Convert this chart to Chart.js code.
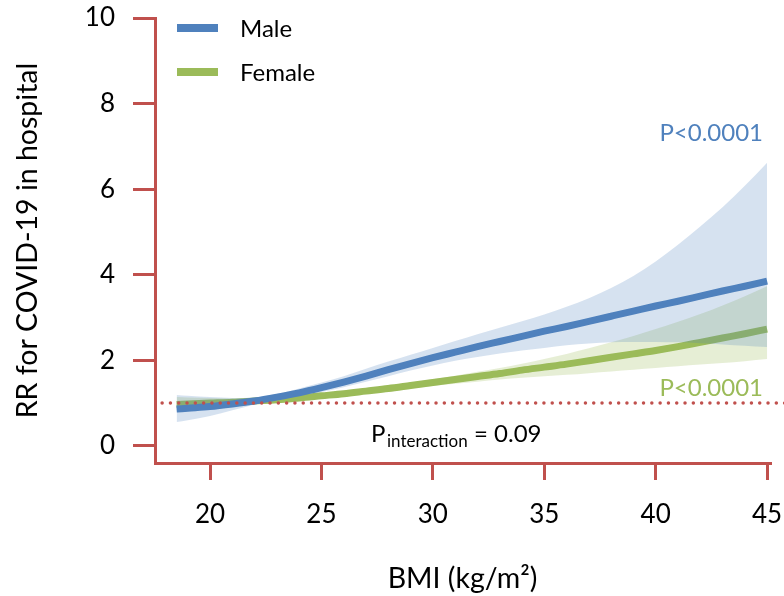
<!DOCTYPE html>
<html>
<head>
<meta charset="utf-8">
<script src="https://cdn.jsdelivr.net/npm/chart.js@4.4.1/dist/chart.umd.min.js"></script>
<style>
  html, body { margin: 0; padding: 0; background: #fff; }
  #wrap { width: 784px; height: 596px; position: relative; }
</style>
</head>
<body>
<div id="wrap"><canvas id="c" width="784" height="596"></canvas></div>
<script>
// ---- data ----
const bmi = [18.5, 19, 20, 21, 22, 23, 24, 25, 26, 27, 28, 29, 30, 31, 32, 33, 34, 35, 36, 37, 38, 39, 40, 41, 42, 43, 44, 45];
const maleRR    = [0.86, 0.88, 0.92, 0.98, 1.05, 1.14, 1.24, 1.36, 1.49, 1.63, 1.78, 1.92, 2.06, 2.19, 2.32, 2.44, 2.56, 2.68, 2.79, 2.91, 3.03, 3.15, 3.27, 3.38, 3.50, 3.62, 3.73, 3.85];
const maleUpper = [1.19, 1.17, 1.14, 1.12, 1.13, 1.21, 1.34, 1.48, 1.63, 1.80, 1.97, 2.13, 2.29, 2.45, 2.61, 2.76, 2.91, 3.07, 3.25, 3.45, 3.69, 3.97, 4.31, 4.70, 5.13, 5.58, 6.08, 6.62];
const maleLower = [0.56, 0.60, 0.70, 0.83, 0.97, 1.08, 1.18, 1.26, 1.37, 1.50, 1.63, 1.76, 1.88, 1.99, 2.08, 2.16, 2.23, 2.29, 2.35, 2.39, 2.42, 2.43, 2.43, 2.42, 2.40, 2.37, 2.34, 2.31];
const femaleRR    = [0.97, 0.98, 1.00, 1.02, 1.05, 1.08, 1.12, 1.17, 1.22, 1.28, 1.34, 1.41, 1.48, 1.55, 1.62, 1.69, 1.77, 1.84, 1.91, 1.99, 2.07, 2.15, 2.23, 2.32, 2.42, 2.52, 2.62, 2.73];
const femaleUpper = [1.14, 1.13, 1.12, 1.11, 1.11, 1.13, 1.16, 1.21, 1.27, 1.34, 1.41, 1.48, 1.56, 1.64, 1.73, 1.82, 1.92, 2.03, 2.15, 2.28, 2.42, 2.57, 2.73, 2.90, 3.08, 3.28, 3.50, 3.73];
const femaleLower = [0.83, 0.85, 0.89, 0.94, 0.99, 1.04, 1.09, 1.13, 1.18, 1.23, 1.28, 1.34, 1.40, 1.45, 1.50, 1.55, 1.59, 1.63, 1.66, 1.70, 1.74, 1.78, 1.82, 1.86, 1.90, 1.94, 1.98, 2.03];
const refValue = 1;
const xTicks = [20, 25, 30, 35, 40, 45];
const yTicks = [0, 2, 4, 6, 8, 10];
const seriesNames = ['Male', 'Female'];
const pMale = 'P<0.0001';
const pFemale = 'P<0.0001';
const pInterText = ['P', 'interaction', '= 0.09'];

// ---- style ----
const BLUE = '#4F81BD', GREEN = '#9BBB59', RED = '#C0504D';
const FONT = 'Lato, "Open Sans", sans-serif';

const pts = arr => arr.map((v, i) => ({ x: bmi[i], y: v }));

const textPlugin = {
  id: 'texts',
  afterDraw(chart) {
    const ctx = chart.ctx;
    ctx.save();
    // legend
    const leg = [{ name: seriesNames[0], c: BLUE, y: 28 }, { name: seriesNames[1], c: GREEN, y: 72 }];
    leg.forEach(l => {
      ctx.fillStyle = l.c;
      ctx.fillRect(177, l.y - 4, 41, 8);
      ctx.fillStyle = '#000';
      ctx.font = '24px ' + FONT;
      ctx.textAlign = 'left';
      ctx.textBaseline = 'middle';
      ctx.fillText(l.name, 240, l.y + 1);
    });
    // p values
    ctx.font = '24px ' + FONT;
    ctx.textAlign = 'right';
    ctx.textBaseline = 'middle';
    ctx.fillStyle = BLUE;
    ctx.fillText(pMale, 763, 133);
    ctx.fillStyle = GREEN;
    ctx.fillText(pFemale, 763, 388);
    // P interaction
    ctx.fillStyle = '#000';
    ctx.textAlign = 'left';
    ctx.textBaseline = 'alphabetic';
    ctx.font = '24px ' + FONT;
    ctx.fillText(pInterText[0], 371, 442);
    ctx.font = '17px ' + FONT;
    ctx.fillText(pInterText[1], 387, 447);
    ctx.font = '24px ' + FONT;
    ctx.fillText(pInterText[2], 474, 442);
    ctx.restore();
  }
};

new Chart(document.getElementById('c'), {
  type: 'line',
  data: {
    datasets: [
      { label: 'ref', data: [{ x: 17.85, y: refValue }, { x: 45.8, y: refValue }], borderColor: RED, borderWidth: 3.5,
        borderDash: [0, 8.3], borderCapStyle: 'round', pointRadius: 0, fill: false, clip: false, tension: 0 },
      { label: seriesNames[0], data: pts(maleRR), borderColor: BLUE, borderWidth: 7, pointRadius: 0, fill: false,
        cubicInterpolationMode: 'monotone' },
      { label: 'maleUpper', data: pts(maleUpper), borderWidth: 0, borderColor: 'rgba(0,0,0,0)', pointRadius: 0,
        fill: '+1', backgroundColor: 'rgba(79,129,189,0.23)', cubicInterpolationMode: 'monotone' },
      { label: 'maleLower', data: pts(maleLower), borderWidth: 0, borderColor: 'rgba(0,0,0,0)', pointRadius: 0,
        fill: false, cubicInterpolationMode: 'monotone' },
      { label: seriesNames[1], data: pts(femaleRR), borderColor: GREEN, borderWidth: 7, pointRadius: 0, fill: false,
        cubicInterpolationMode: 'monotone' },
      { label: 'femaleUpper', data: pts(femaleUpper), borderWidth: 0, borderColor: 'rgba(0,0,0,0)', pointRadius: 0,
        fill: '+1', backgroundColor: 'rgba(155,187,89,0.25)', cubicInterpolationMode: 'monotone' },
      { label: 'femaleLower', data: pts(femaleLower), borderWidth: 0, borderColor: 'rgba(0,0,0,0)', pointRadius: 0,
        fill: false, cubicInterpolationMode: 'monotone' }
    ]
  },
  options: {
    responsive: false,
    animation: false,
    events: [],
    layout: { padding: { top: 18, right: 14, left: 0, bottom: 0 } },
    plugins: { legend: { display: false }, tooltip: { enabled: false } },
    scales: {
      x: {
        type: 'linear', min: 17.53, max: 45.13,
        afterBuildTicks: s => { s.ticks = xTicks.map(v => ({ value: v })); },
        afterFit: s => { s.height = 133; s.paddingLeft = 0; s.paddingRight = 0; s.paddingTop = 0; s.paddingBottom = 0; },
        border: { display: true, color: RED, width: 3 },
        grid: { drawOnChartArea: false, drawTicks: true, tickLength: 17, tickColor: RED, tickWidth: 3, color: RED, lineWidth: 3 },
        ticks: { color: '#000', font: { family: FONT, size: 26 }, padding: 19, maxRotation: 0 },
        title: { display: true, text: 'BMI (kg/m²)', color: '#000', font: { family: FONT, size: 28.5 }, padding: { top: 0, bottom: 0 } }
      },
      y: {
        type: 'linear', min: -0.4, max: 10,
        afterBuildTicks: s => { s.ticks = yTicks.map(v => ({ value: v })); },
        afterFit: s => { s.width = 155; s.paddingLeft = 0; s.paddingRight = 0; s.paddingTop = 0; s.paddingBottom = 0; },
        border: { display: true, color: RED, width: 3 },
        grid: { drawOnChartArea: false, drawTicks: true, tickLength: 22, tickColor: RED, tickWidth: 3, color: RED, lineWidth: 3 },
        ticks: { color: '#000', font: { family: FONT, size: 26 }, padding: 18 },
        title: { display: true, text: 'RR for COVID-19 in hospital', color: '#000', font: { family: FONT, size: 28.5 }, padding: { top: 11, bottom: 0 } }
      }
    }
  },
  plugins: [textPlugin]
});
</script>
</body>
</html>
